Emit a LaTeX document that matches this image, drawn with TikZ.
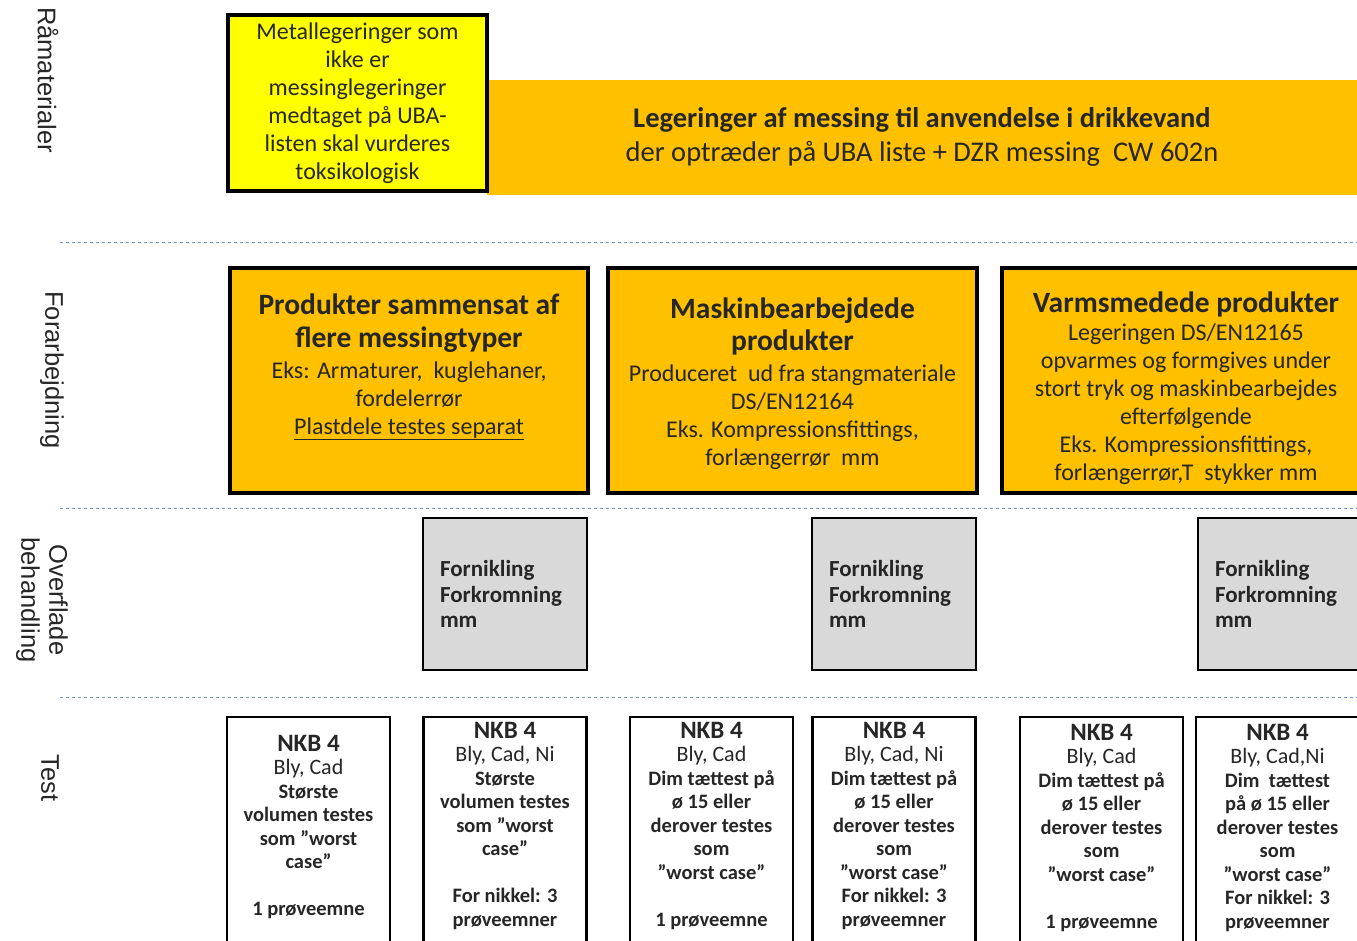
\documentclass[tikz,border=0pt]{standalone}
\usepackage{fontspec}
\setmainfont{Carlito}
\newfontfamily\labelfont{Liberation Sans}
\usetikzlibrary{positioning}
\definecolor{brass}{HTML}{FFC000}
\definecolor{alloyyellow}{HTML}{FFFF00}
\definecolor{platinggray}{HTML}{D9D9D9}
\definecolor{rowline}{RGB}{120,150,185}

\newcommand\titlefont{\bfseries\fontsize{29.5}{33}\selectfont}
\newcommand\nkbfont{\bfseries\fontsize{25}{26}\selectfont}
\newcommand\metalfont{\mdseries\fontsize{22}{23.5}\selectfont}

\begin{document}
\begin{tikzpicture}[
    x=1pt, y=-1pt,
    rowlabel/.style={rotate=-90, font=\labelfont\fontsize{25.5}{28}\selectfont, align=center, text=black!85},
    rowsep/.style={rowline, dashed, line width=1pt},
    rawbox/.style={rectangle, draw=black, line width=3.5pt, fill=alloyyellow, minimum width=259pt, minimum height=176pt,
        inner sep=0pt, align=center, text=black!85, font=\fontsize{24}{28}\selectfont},
    bandbox/.style={rectangle, fill=brass, minimum width=870pt, minimum height=115pt, inner sep=0pt, align=center,
        text=black!85, font=\fontsize{28.5}{34}\selectfont},
    procbox/.style={rectangle, draw=black, line width=3.5pt, fill=brass, minimum height=225pt, inner sep=0pt},
    proctext/.style={align=center, inner sep=0pt, text=black!85, font=\fontsize{24}{28}\selectfont},
    surfbox/.style={rectangle, draw=black, line width=2.5pt, fill=platinggray, minimum width=164pt, minimum height=152pt,
        inner sep=0pt, text width=130pt, align=left, text=black!85, font=\bfseries\fontsize{23}{25.5}\selectfont},
    testbox/.style={rectangle, draw=black, line width=2.5pt, fill=white, minimum width=163pt, minimum height=243pt, inner sep=0pt},
    testtext/.style={align=center, inner sep=0pt, text=black!85, font=\bfseries\fontsize{20.5}{23.5}\selectfont},
]
    \useasboundingbox (0,0) rectangle (1357,940);
    \clip (0,0) rectangle (1357,940);

    % row labels and separators
    \node[rowlabel] (lblraw) at (48,80) {Råmaterialer};
    \node[rowlabel] (lblproc) at (52,370) {Forarbejdning};
    \node[rowlabel] (lblsurf) at (42,600) {Overflade\\behandling};
    \node[rowlabel] (lbltest) at (50,778) {Test};
    \draw[rowsep] (60,242) -- (1357,242);
    \draw[rowsep] (60,508) -- (1357,508);
    \draw[rowsep] (60,697) -- (1357,697);

    % raw materials
    \node[bandbox] (rawbrass) at (922,137) {\textbf{Legeringer af messing til anvendelse i drikkevand}\\der optræder på UBA liste + DZR messing~~CW 602n};
    \node[rawbox] (rawmetal) at (357.5,103) {Metallegeringer som\\ikke er\\messinglegeringer\\medtaget på UBA-\\listen skal vurderes\\toksikologisk};

    % processing
    \node[procbox, minimum width=358pt] (procmix) at (409,380.5) {};
    \node[procbox, minimum width=369pt] (procmach) at (792.5,380.5) {};
    \node[procbox, minimum width=368pt] (procforge) at (1186,380.5) {};
    \node[proctext, below=27pt of procmix.north] (procmixtxt) {\titlefont Produkter sammensat af\\[5pt]\titlefont flere messingtyper\\[3pt]
        Eks: Armaturer,~~kuglehaner,\\fordelerrør\\\underline{Plastdele testes separat}};
    \node[proctext, below=31pt of procmach.north] (procmachtxt) {\titlefont Maskinbearbejdede\\[4pt]\titlefont produkter\\[3pt]
        Produceret~~ud fra stangmateriale\\DS/EN12164\\Eks. Kompressionsfittings,\\forlængerrør~~mm};
    \node[proctext, below=25pt of procforge.north] (procforgetxt) {\titlefont Varmsmedede produkter\\
        Legeringen DS/EN12165\\opvarmes og formgives under\\stort tryk og maskinbearbejdes\\efterfølgende\\
        Eks. Kompressionsfittings,\\forlængerrør,T~~stykker mm};

    % surface treatment
    \foreach \name/\cx in {surfmix/505, surfmach/894, surfforge/1280}
        \node[surfbox] (\name) at (\cx,594) {Fornikling\\Forkromning\\mm};

    % tests
    \foreach \name/\cx in {testmix/308.5, testmixni/505, testmach/711.5, testmachni/894, testforge/1101.5, testforgeni/1277.5}
        \node[testbox] (\name) at (\cx,838.5) {};
    \node[testtext, below=19pt of testmix.north] (testmixtxt) {\nkbfont NKB 4\\
        \metalfont Bly, Cad\\Største\\volumen testes\\som ”worst\\case”\\[23.5pt]1 prøveemne};
    \node[testtext, below=6pt of testmixni.north] (testmixnitxt) {\nkbfont NKB 4\\
        \metalfont Bly, Cad, Ni\\Største\\volumen testes\\som ”worst\\case”\\[23.5pt]For nikkel: 3\\prøveemner};
    \node[testtext, below=6pt of testmach.north] (testmachtxt) {\nkbfont NKB 4\\
        \metalfont Bly, Cad\\Dim tættest på\\ø 15 eller\\derover testes\\som\\”worst case”\\[23.5pt]1 prøveemne};
    \node[testtext, below=6pt of testmachni.north] (testmachnitxt) {\nkbfont NKB 4\\
        \metalfont Bly, Cad, Ni\\Dim tættest på\\ø 15 eller\\derover testes\\som\\”worst case”\\For nikkel: 3\\prøveemner};
    \node[testtext, below=8pt of testforge.north] (testforgetxt) {\nkbfont NKB 4\\
        \metalfont Bly, Cad\\Dim tættest på\\ø 15 eller\\derover testes\\som\\”worst case”\\[23.5pt]1 prøveemne};
    \node[testtext, below=8pt of testforgeni.north] (testforgenitxt) {\nkbfont NKB 4\\
        \metalfont Bly, Cad,Ni\\Dim~~tættest\\på ø 15 eller\\derover testes\\som\\”worst case”\\For nikkel: 3\\prøveemner};
\end{tikzpicture}
\end{document}
